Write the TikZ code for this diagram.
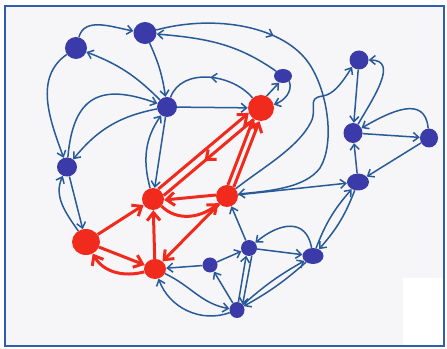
\documentclass[tikz,border=0pt]{standalone}
\usetikzlibrary{arrows.meta,shapes.geometric,decorations.markings}
\definecolor{nb}{HTML}{3A3BA8}
\definecolor{eb}{HTML}{275A96}
\definecolor{rn}{HTML}{F02B1D}
\definecolor{fb}{HTML}{2E5DB2}
\definecolor{bgc}{HTML}{F6F6F9}
\pgfdeclarelayer{back}
\pgfdeclarelayer{edges}
\pgfsetlayers{back,edges,main}
\begin{document}
\begin{tikzpicture}[x=1pt,y=1pt,
  bnode/.style={ellipse,fill=nb,inner sep=0pt,minimum width=#1,minimum height=#1},
  rnode/.style={ellipse,fill=rn,inner sep=0pt,minimum width=#1,minimum height=#1},
  bl/.style={draw=eb,line width=1.5pt},
  be/.style={bl,-{Straight Barb[length=5.5pt,width=9pt]}},
  rl/.style={draw=rn,line width=3pt},
  re/.style={rl,-{Straight Barb[length=8pt,width=13pt]}},
  marr/.style={postaction={decorate},decoration={markings,mark=at position #1 with {\arrow{Straight Barb[length=5.5pt,width=9pt]}}}},
  rmarr/.style={postaction={decorate},decoration={markings,mark=at position #1 with {\arrow{Straight Barb[length=8pt,width=13pt]}}}}
]
\useasboundingbox (0,0) rectangle (447,348);
\begin{pgfonlayer}{back}
\fill[white] (0,0) rectangle (447,348);
\fill[bgc] (5,2) rectangle (444,342);
\fill[white] (403,3) rectangle (443,70);
\draw[fb,line width=2.6pt] (5,2) rectangle (444,342);
\end{pgfonlayer}

% nodes
\node[bnode=22pt] (B1) at (76,300) {};
\node[bnode=22pt,minimum width=23pt] (B2) at (145,315) {};
\node[bnode=20pt] (B3) at (167,241) {};
\node[bnode=19pt,minimum width=20pt] (B4) at (67,181) {};
\node[bnode=14pt,minimum width=18pt] (B5) at (283,272) {};
\node[bnode=19pt] (B6) at (359,288) {};
\node[bnode=20pt,minimum width=19pt] (B7) at (353,215) {};
\node[bnode=19pt,minimum width=18pt] (B8) at (429,210) {};
\node[bnode=17pt,minimum width=22pt] (B9) at (358,166) {};
\node[bnode=16pt] (B10) at (249,100) {};
\node[bnode=15pt] (B11) at (210,83) {};
\node[bnode=16pt,minimum width=21pt] (B12) at (313,92) {};
\node[bnode=16pt,minimum width=15pt] (B13) at (237,38) {};
\node[rnode=26pt] (R1) at (261,240) {};
\node[rnode=22pt] (R2) at (153,149) {};
\node[rnode=22pt] (R3) at (227,152) {};
\node[rnode=26pt,minimum width=28pt] (R4) at (86,106) {};
\node[rnode=20pt,minimum width=22pt] (R5) at (155,79) {};

\begin{pgfonlayer}{edges}
% blue edges
\draw[be] (B1) to[out=75,in=170] (B2);
\draw[be] (B3) to[bend right=12] (B1);
\draw[be] (B1) to[out=215,in=110] (B4);
\draw[be] (B2) to[bend left=8] (B3);
\draw[be] (B4) to[out=85,in=160,looseness=1.5] (B3);
\draw[be] (B3) to[bend right=20] (B4);
\draw[be] (R2) to[out=105,in=235] (B3);
\draw[be] (B3) -- (R2);
\draw[be] (B3) -- (R1);
\draw[bl,marr=0.5] (R1) to[out=130,in=70] (B3);
\draw[be] (B5) to[out=145,in=-5] (B2);
\draw[be,marr=0.33] (B2.15) .. controls (215,334) and (285,322) .. (310,283)
   .. controls (328,255) and (335,205) .. (320,180)
   .. controls (305,160) and (270,157) .. (R3.10);
\draw[be] (R1.65) -- (B5.240);
\draw[be] (B5.-40) to[out=-70,in=20] (R1.15);
\draw[be] (B6) -- (B7);
\draw[be] (B7.60) to[out=60,in=0,looseness=1.2] (B6.east);
\draw[be] (R3.40) .. controls (262,180) and (298,200) .. (311,226)
   .. controls (318,240) and (306,250) .. (323,252)
   .. controls (333,254) and (340,262) .. (B6.225);
\draw[be] (B8) to[out=95,in=30,looseness=1.3] (B7);
\draw[be] (B7) -- (B8);
\draw[be] (B8) -- (B9);
\draw[be] (B9) -- (B7);
\draw[be] (R3) -- (B9);
\draw[be] (B12) to[bend left=10] (B9);
\draw[be] (B9) to[bend left=10] (B12);
\draw[be] (B10) -- (B12);
\draw[be] (B12) to[out=100,in=40,looseness=1.4] (B10);
\draw[be] (B13) to[bend left=6] (B12);
\draw[be] (B12) to[bend left=6] (B13);
\draw[be] (B13.80) -- (B10.250);
\draw[be] (B10.290) -- (B13.45);
\draw[be] (B11) -- (B10);
\draw[be] (B10) -- (R3);
\draw[be] (B13) -- (B11);
\draw[be] (B11) -- (R5);
\draw[be] (R5) to[out=-25,in=170] (B13);
\draw[be] (B13) to[out=200,in=-70] (R5);
\draw[be] (R4) to[out=125,in=245] (B4);
\draw[be] (B4) -- (R4);
% red edges
\draw[re] (R2.62) -- (R1.202);
\draw[rl,rmarr=0.55] (R1.238) -- (R2.18);
\draw[re] (R3.85) -- (R1.235);
\draw[re] (R3.53) -- (R1.263);
\draw[re] (R3.175) -- (R2.355);
\draw[re] (R2.-40) to[out=-45,in=220] (R3.220);
\draw[re] (R4) -- (R2);
\draw[re] (R5) -- (R2);
\draw[re] (R3) -- (R5);
\draw[re] (R4) -- (R5);
\draw[re] (R5) to[out=195,in=-60] (R4);
\end{pgfonlayer}
\end{tikzpicture}
\end{document}
